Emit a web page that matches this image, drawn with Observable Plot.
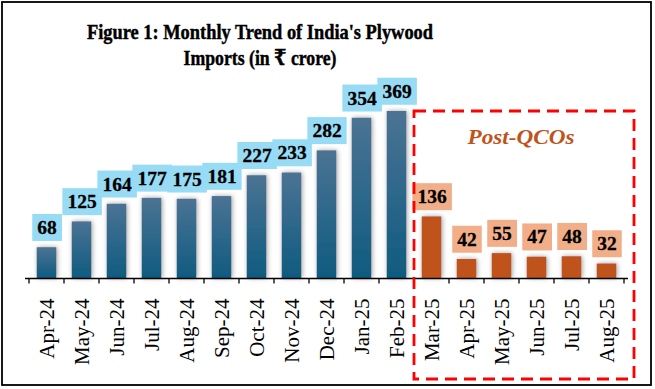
<!DOCTYPE html>
<html><head><meta charset="utf-8">
<script src="https://cdn.jsdelivr.net/npm/d3@7"></script>
<script src="https://cdn.jsdelivr.net/npm/@observablehq/plot@0.6"></script>
<style>body{margin:0;background:#fff;} #chart{width:655px;height:389px;}</style>
</head><body><div id="chart"></div>
<script>
const months = ["Apr-24","May-24","Jun-24","Jul-24","Aug-24","Sep-24","Oct-24","Nov-24","Dec-24","Jan-25","Feb-25","Mar-25","Apr-25","May-25","Jun-25","Jul-25","Aug-25"];
const imports = [68,125,164,177,175,181,227,233,282,354,369,136,42,55,47,48,32];
const postQcoStart = "Mar-25";
const titleLines = ["Figure 1: Monthly Trend of India's Plywood", "Imports (in \u20B9 crore)"];
const annotation = "Post-QCOs";

const startIdx = months.indexOf(postQcoStart);
const data = months.map((m, i) => ({month: m, value: imports[i], post: i >= startIdx}));
const pre = data.filter(d => !d.post);
const post = data.filter(d => d.post);

const serif = "Liberation Serif, Times New Roman, DejaVu Serif, serif";
const W = 655, H = 389;

const chart = Plot.plot({
  width: W, height: H,
  marginLeft: 25, marginRight: 27, marginTop: 111, marginBottom: 111,
  style: {fontFamily: serif, fontSize: "21px", background: "white", color: "black"},
  x: {domain: months, padding: 0, label: null},
  y: {domain: [0, d3.max(imports)], axis: null},
  marks: [
    Plot.barY(pre, {x: "month", y: "value", fill: "url(#gradBlue)", insetLeft: 7.75, insetRight: 7.75}),
    Plot.barY(post, {x: "month", y: "value", fill: "#C0531A", insetLeft: 7.75, insetRight: 7.75}),
    Plot.ruleY([0], {stroke: "black", strokeWidth: 1.4}),
    Plot.axisX({tickSize: 0, tickRotate: -90, tickPadding: 20, fontSize: 21, fontFamily: serif, label: null}),
    Plot.text(pre, {x: "month", y: "value", text: d => String(d.value), dy: -20, fontSize: 19.5, fontFamily: serif, fontWeight: "bold", fill: "black", stroke: "black", strokeWidth: 0.3}),
    Plot.text(post, {x: "month", y: "value", text: d => String(d.value), dy: -20, fontSize: 19.5, fontFamily: serif, fontWeight: "bold", fill: "black", stroke: "black", strokeWidth: 0.3})
  ]
});
document.getElementById("chart").appendChild(chart);

const svg = d3.select(chart);
const xs = chart.scale("x"), ys = chart.scale("y");
const base = ys.apply(0);

// defs
const defs = svg.insert("defs", ":first-child");
const g = defs.append("linearGradient").attr("id", "gradBlue").attr("x1", 0).attr("y1", 0).attr("x2", 0).attr("y2", 1);
g.append("stop").attr("offset", "0%").attr("stop-color", "#4B7394");
g.append("stop").attr("offset", "100%").attr("stop-color", "#0F5B80");
const f = defs.append("filter").attr("id", "shadow").attr("x", "-50%").attr("y", "-10%").attr("width", "200%").attr("height", "120%");
f.append("feDropShadow").attr("dx", 1).attr("dy", 0).attr("stdDeviation", 2.5).attr("flood-color", "#888").attr("flood-opacity", 0.8);
svg.selectAll('g[aria-label="bar"]').attr("filter", "url(#shadow)");

// label boxes
const textGroups = svg.selectAll('g[aria-label="text"]').nodes();
textGroups.forEach((grp, gi) => {
  const fillBox = gi === 0 ? "#97DBF5" : "#F2AE88";
  Array.from(grp.querySelectorAll("text")).forEach(t => {
    const bb = t.getBBox();
    const cx = bb.x + bb.width / 2, cy = bb.y + bb.height / 2;
    const bw = bb.width + 10, bh = 27;
    const r = document.createElementNS("http://www.w3.org/2000/svg", "rect");
    r.setAttribute("x", cx - bw / 2); r.setAttribute("y", cy - bh / 2);
    r.setAttribute("width", bw); r.setAttribute("height", bh);
    r.setAttribute("fill", fillBox); r.setAttribute("stroke", "none");
    if (t.getAttribute("transform")) r.setAttribute("transform", t.getAttribute("transform"));
    grp.insertBefore(r, t);
  });
});

// boundary ticks
const bounds = months.map(m => xs.apply(m)).concat([xs.apply(months[months.length - 1]) + xs.bandwidth]);
svg.append("g").selectAll("line").data(bounds).join("line")
  .attr("x1", d => d).attr("x2", d => d).attr("y1", base).attr("y2", base + 5.5)
  .attr("stroke", "black").attr("stroke-width", 1.3);

// dashed region
const rx1 = xs.apply(postQcoStart);
const rx2 = xs.apply(months[months.length - 1]) + xs.bandwidth + 10;
const ry1 = ys.apply(d3.max(imports));
const ry2 = H - 10;
svg.append("rect").attr("x", rx1).attr("y", ry1).attr("width", rx2 - rx1).attr("height", ry2 - ry1)
  .attr("fill", "none").attr("stroke", "#FF0000").attr("stroke-width", 2.8).attr("stroke-dasharray", "12,7");
svg.append("text").attr("x", (rx1 + rx2) / 2 - 3).attr("y", 144).attr("text-anchor", "middle")
  .attr("font-family", serif).attr("font-size", 22).attr("font-style", "italic").attr("font-weight", "bold")
  .attr("fill", "#C0531A").attr("textLength", 107).attr("lengthAdjust", "spacingAndGlyphs").text(annotation);

// title
const tl = [346, 153];
titleLines.forEach((s, i) => {
  svg.append("text").attr("x", 260).attr("y", 39 + i * 26).attr("text-anchor", "middle")
    .attr("font-family", serif).attr("font-size", 22).attr("font-weight", "bold").attr("fill", "black")
    .attr("stroke", "black").attr("stroke-width", 0.45)
    .attr("textLength", tl[i]).attr("lengthAdjust", "spacingAndGlyphs").text(s);
});

// frame
svg.append("rect").attr("x", 2).attr("y", 2).attr("width", 649).attr("height", 383)
  .attr("fill", "none").attr("stroke", "black").attr("stroke-width", 1.8);
</script>
</body></html>
